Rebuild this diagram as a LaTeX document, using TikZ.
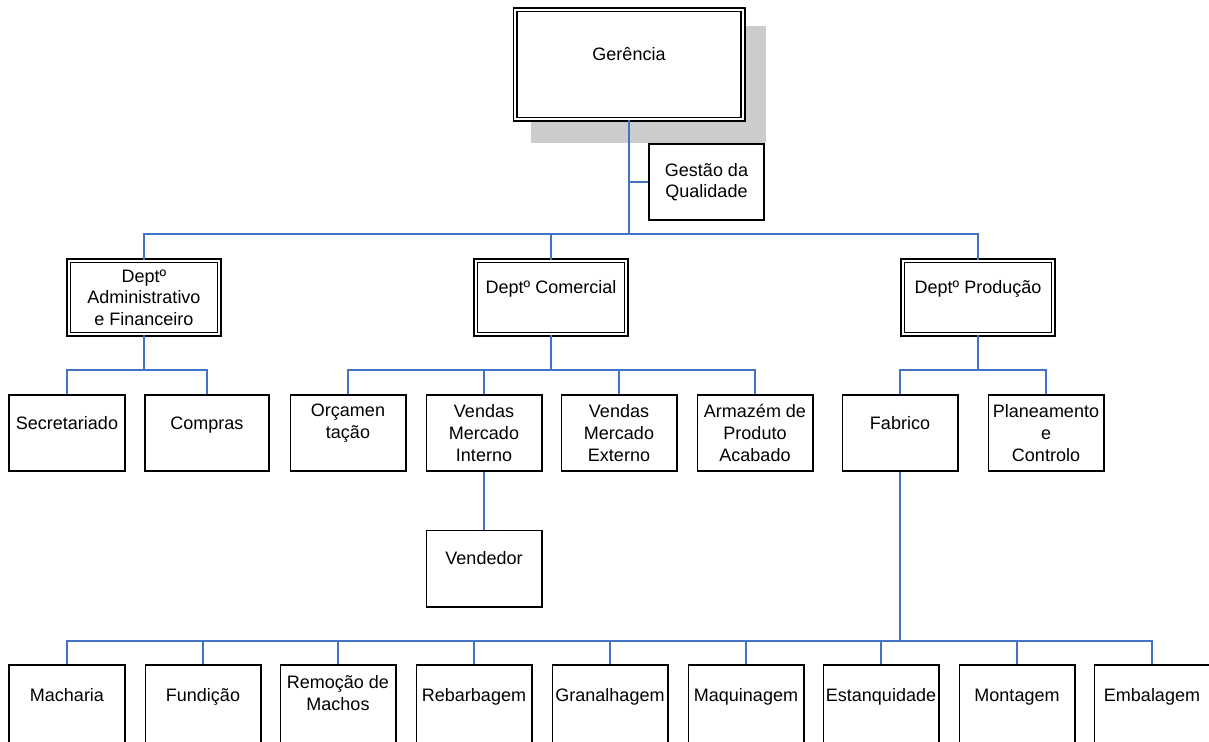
\documentclass[tikz,border=0pt]{standalone}
\usepackage{fontspec}
\setmainfont{Liberation Sans}
\usetikzlibrary{shadows}

\definecolor{linkblue}{RGB}{68,114,196}
\definecolor{shadowgray}{RGB}{204,204,204}

\begin{document}
\begin{tikzpicture}[
  x=1bp, y=-1bp,
  font=\fontsize{18bp}{21.6bp}\selectfont,
  box/.style={rectangle, draw, fill=white, line width=1.6bp, minimum width=115.4bp, minimum height=76.4bp, inner sep=2bp, text centered, align=center},
  dbox/.style={box, double, line width=1.6bp, double distance=2.2bp, minimum width=150.6bp, minimum height=73.6bp},
  lift/.style={execute at end node={\rule[-24bp]{0pt}{40bp}}},
  link/.style={draw=linkblue, line width=1.6bp}
]
  \useasboundingbox (0,0) rectangle (1209,742);
  \clip (0,0) rectangle (1209,742);

  % top
  \node[dbox, lift, minimum width=227.6bp, minimum height=109.6bp,
        general shadow={fill=shadowgray, draw=shadowgray, line width=7bp, shadow xshift=19.3bp, shadow yshift=-19.8bp}]
        (ger) at (629,64.5) {Gerência};
  \node[box, minimum height=75.4bp] (gq) at (706.5,182) {Gestão da\\Qualidade};

  % departments
  \node[dbox] (adm) at (144,297.5) {Deptº\\Administrativo\\e Financeiro};
  \node[dbox, lift] (com) at (551,297.5) {Deptº Comercial};
  \node[dbox, lift] (prod) at (978,297.5) {Deptº Produção};

  % sections
  \node[box, lift] (sec) at (67,433) {Secretariado};
  \node[box, lift, minimum width=124.4bp] (comp) at (207,433) {Compras};
  \node[box, lift] (orc) at (348,433) {Orçamen\\tação};
  \node[box] (vmi) at (484,433) {Vendas\\Mercado\\Interno};
  \node[box] (vme) at (619,433) {Vendas\\Mercado\\Externo};
  \node[box] (arm) at (755,433) {Armazém de\\Produto\\Acabado};
  \node[box, lift] (fab) at (900,433) {Fabrico};
  \node[box] (plan) at (1046,433) {Planeamento\\e\\Controlo};

  \node[box, lift] (vend) at (484,568.5) {Vendedor};

  % production line
  \foreach \x/\n/\t in {67/mach/Macharia, 203/fund/Fundição, 338/rem/{Remoção de\\Machos},
      474/reb/Rebarbagem, 610/gran/Granalhagem, 746/maq/Maquinagem,
      881/est/Estanquidade, 1017/mont/Montagem, 1152/emb/Embalagem}
    \node[box, lift, minimum height=80bp] (\n) at (\x,705) {\t};

  % connectors
  \coordinate (mainbus) at (629,234);
  \draw[link] (ger.south) -- (mainbus);
  \foreach \n in {adm,com,prod}
    \draw[link] (mainbus) -| (\n.north);
  \draw[link] (gq.west) -- (gq.west -| ger.south);

  \foreach \n in {sec,comp}
    \draw[link] (adm.south) -- ++(0,35) -| (\n.north);
  \foreach \n in {orc,vmi,vme,arm}
    \draw[link] (com.south) -- ++(0,35) -| (\n.north);
  \foreach \n in {fab,plan}
    \draw[link] (prod.south) -- ++(0,35) -| (\n.north);
  \draw[link] (vmi.south) -- (vend.north);

  \foreach \n in {mach,fund,rem,reb,gran,maq,est,mont,emb}
    \draw[link] (fab.south) -- ++(0,169) -| (\n.north);
\end{tikzpicture}
\end{document}
